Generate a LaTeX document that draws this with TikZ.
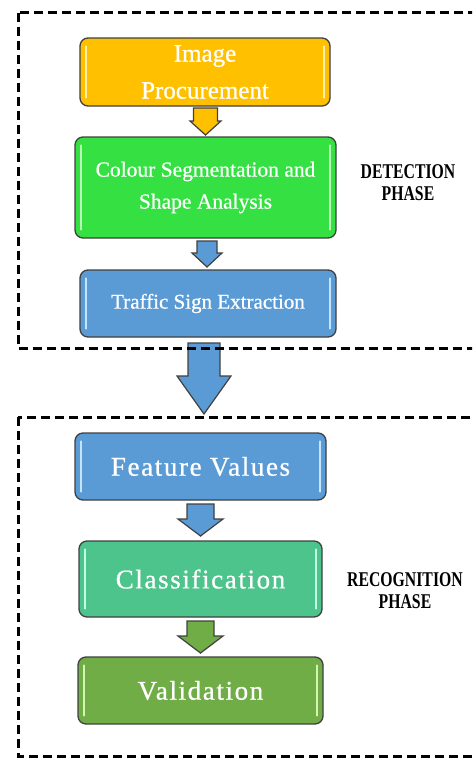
\documentclass[tikz,border=0pt]{standalone}
\usepackage{fontspec}
\setmainfont[FakeBold=0.7]{Liberation Serif}
\newfontfamily\labfont[FakeStretch=0.75,UprightFont=* Bold]{Liberation Serif}
\newfontfamily\wideserif[LetterSpace=6,FakeBold=0.7]{Liberation Serif}
\usetikzlibrary{calc}
\definecolor{cOrange}{HTML}{FFC000}
\definecolor{cOrangeL}{HTML}{FFEFA8}
\definecolor{cGreen}{HTML}{34E042}
\definecolor{cGreenL}{HTML}{B8FFB8}
\definecolor{cBlue}{HTML}{5B9BD5}
\definecolor{cBlueL}{HTML}{C6E4FF}
\definecolor{cTeal}{HTML}{4DC48C}
\definecolor{cTealL}{HTML}{C0FFE4}
\definecolor{cOlive}{HTML}{70AD47}
\definecolor{cOliveL}{HTML}{D4F5B0}
\definecolor{cEdge}{HTML}{404040}
\tikzset{
  stepbox/.style={draw=cEdge, line width=1.3pt, rounded corners=8pt, text=white, align=center, inner sep=0pt},
  phasebox/.style={draw=black, line width=3pt, dash pattern=on 9pt off 5pt},
  phaselabel/.style={font=\labfont\fontsize{21}{22}\selectfont, align=center},
  hlline/.style={line width=1.8pt, line cap=round},
  barrowstyle/.style={draw=cEdge, line width=1.2pt, line join=miter}
}
% highlight strips inside a box
\newcommand{\hlstrips}[2]{%
  \draw[hlline,#2] ($(#1.north west)+(7,9)$) -- ($(#1.south west)+(7,-9)$);
  \draw[hlline,#2] ($(#1.north east)+(-7,9)$) -- ($(#1.south east)+(-7,-9)$);
}
% block arrow: name, cx, ytop, shaft half width, head half width, head start y, tip y, colour
\newcommand{\blockarrow}[8]{%
  \coordinate (#1) at (#2,#3);
  \filldraw[barrowstyle, fill=#8] ($(#1)+(-#4,0)$) -- ($(#1)+(#4,0)$) -- (#2+#4,#6) -- (#2+#5,#6) -- (#2,#7) -- (#2-#5,#6) -- (#2-#4,#6) -- cycle;
}
\begin{document}
\begin{tikzpicture}[x=1pt,y=-1pt]
\useasboundingbox (0,0) rectangle (472,758);
\clip (0,0) rectangle (472,758);

% boxes
\node[stepbox, fill=cOrange, minimum width=250pt, minimum height=68pt,
      font=\fontsize{25}{37}\selectfont] (b1) at (205,72) {Image\\Procurement};
\node[stepbox, fill=cGreen, minimum width=261pt, minimum height=101pt,
      font=\fontsize{21.5}{32}\selectfont] (b2) at (205.5,187.5) {Colour Segmentation and\\Shape Analysis};
\node[stepbox, fill=cBlue, minimum width=256pt, minimum height=67pt,
      font=\fontsize{21}{25}\selectfont] (b3) at (208,303.5) {Traffic Sign Extraction};
\node[stepbox, fill=cBlue, minimum width=251pt, minimum height=67pt,
      font=\wideserif\fontsize{27}{30}\selectfont] (b4) at (200.5,466.5) {Feature Values};
\node[stepbox, fill=cTeal, minimum width=243pt, minimum height=76pt,
      font=\wideserif\fontsize{27}{30}\selectfont] (b5) at (200.5,579) {Classification};
\node[stepbox, fill=cOlive, minimum width=245pt, minimum height=67pt,
      font=\wideserif\fontsize{27}{30}\selectfont] (b6) at (200.5,690.5) {Validation};

\hlstrips{b1}{cOrangeL}
\hlstrips{b2}{cGreenL}
\hlstrips{b3}{cBlueL}
\hlstrips{b4}{cBlueL}
\hlstrips{b5}{cTealL}
\hlstrips{b6}{cOliveL}

% block arrows
\blockarrow{a1}{205.5}{108}{12}{15.5}{121}{135}{cOrange}
\blockarrow{a2}{207}{241}{10}{15}{253}{267}{cBlue}
\blockarrow{a0}{204}{343}{16}{27}{376}{414}{cBlue}
\blockarrow{a3}{200.5}{504}{13.5}{22.5}{519}{536}{cBlue}
\blockarrow{a4}{200.5}{621}{13.5}{22.5}{636}{653}{cOlive}

% phase frames
\draw[phasebox] (18,12.5) rectangle (500,348);
\draw[phasebox] (18,417) rectangle (500,756);

% phase labels
\node[phaselabel] (det) at (408,183) {DETECTION\\PHASE};
\node[phaselabel] (rec) at (405,591) {RECOGNITION\\PHASE};
\end{tikzpicture}
\end{document}
